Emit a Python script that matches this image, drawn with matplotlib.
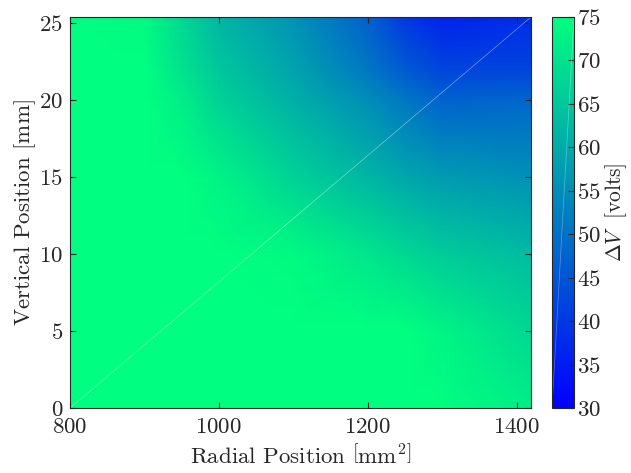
import matplotlib

matplotlib.use("Agg")
import matplotlib.pyplot as plt
import numpy as np

# Grid nodes (radial position in mm^2, vertical in mm)
radial_mm2 = [800, 900, 950, 1000, 1100, 1200, 1250, 1300, 1419]
vertical_mm = [0, 5, 10, 15, 20, 22, 25.4]

# Delta V (volts) at each node, rows follow vertical_mm, columns follow radial_mm2
dv_y00 = [80, 80, 80, 80, 80, 79, 77, 76, 72]
dv_y05 = [80, 80, 80, 80, 78, 76, 75, 73, 68]
dv_y10 = [80, 80, 79, 77, 74, 70.5, 68, 66, 63]
dv_y15 = [80, 78, 76, 73, 67, 62, 59.5, 57.5, 55.5]
dv_y20 = [80, 76, 72, 67, 61, 55, 51, 47.5, 48]
dv_y22 = [79, 75, 70, 65, 59, 51, 46, 42, 42]
dv_y25 = [78, 74, 68, 62, 56, 47, 40, 36, 38]

cbar_ticks = [30, 35, 40, 45, 50, 55, 60, 65, 70, 75]
dark = (0.15, 0.15, 0.15)

plt.rcParams.update({
    "font.family": "serif",
    "font.serif": ["cmr10"],
    "mathtext.fontset": "cm",
    "axes.formatter.use_mathtext": True,
    "font.size": 16.5,
    "axes.edgecolor": dark,
    "xtick.color": dark,
    "ytick.color": dark,
    "axes.labelcolor": dark,
})

field = np.array([dv_y00, dv_y05, dv_y10, dv_y15, dv_y20, dv_y22, dv_y25])
xx, yy = np.meshgrid(radial_mm2, vertical_mm)

fig = plt.figure(figsize=(6.31, 4.73), dpi=100)
ax = fig.add_axes([0.1109, 0.1374, 0.7306, 0.8266])
cax = fig.add_axes([0.8748, 0.1374, 0.0349, 0.8266])

mesh = ax.pcolormesh(xx, yy, field, shading="gouraud", cmap="winter",
                     vmin=30, vmax=75, rasterized=True)
ax.plot([0, 1], [0, 1], transform=ax.transAxes, color="white",
        lw=0.5, alpha=0.45)

ax.set_xlim(radial_mm2[0], radial_mm2[-1])
ax.set_ylim(vertical_mm[0], vertical_mm[-1])
ax.set_xticks([800, 1000, 1200, 1400])
ax.set_yticks([0, 5, 10, 15, 20, 25])
ax.tick_params(direction="in", top=True, right=True, length=4, width=0.8,
               labelsize=16.5)
ax.tick_params(axis="x", pad=7)
ax.tick_params(axis="y", pad=5)
ax.set_xlabel(r"Radial Position $\left[\mathrm{mm}^2\right]$", fontsize=16.5,
              labelpad=4)
ax.set_ylabel(r"Vertical Position $[\mathrm{mm}]$", fontsize=16.5, labelpad=1)
for spine in ax.spines.values():
    spine.set_linewidth(0.8)

cbar = fig.colorbar(mesh, cax=cax, ticks=cbar_ticks)
cbar.ax.tick_params(direction="in", length=4, width=0.8, labelsize=16.5, pad=2)
cbar.outline.set_linewidth(0.8)
cbar.outline.set_edgecolor(dark)
cbar.set_label(r"$\Delta V\ \ [\mathrm{volts}]$", fontsize=15.5, labelpad=2)
cax.plot([0, 1], [0, 1], transform=cax.transAxes, color="white",
         lw=0.5, alpha=0.35)

fig.savefig("out.png", dpi=100)
